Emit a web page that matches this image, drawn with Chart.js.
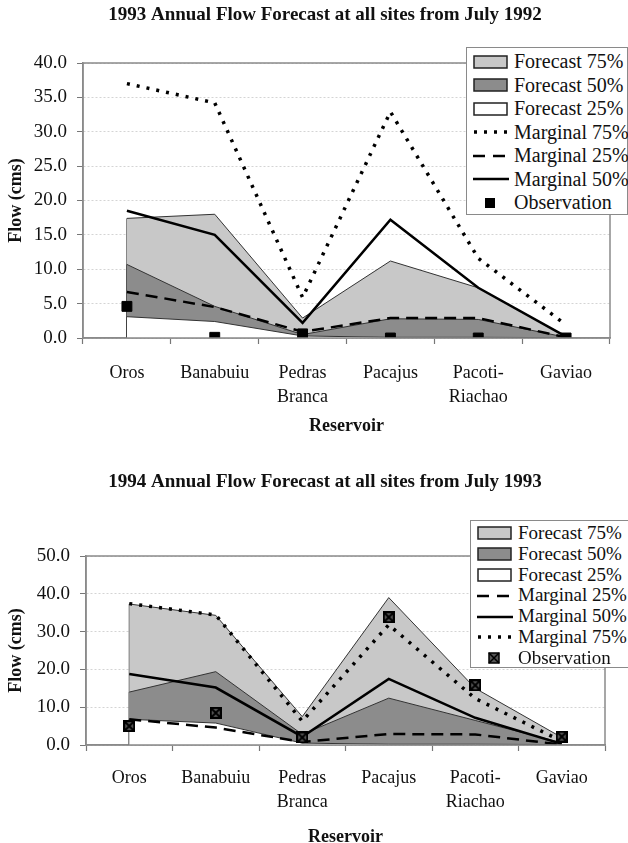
<!DOCTYPE html>
<html>
<head>
<meta charset="utf-8">
<script src="https://cdn.jsdelivr.net/npm/chart.js@4.4.1/dist/chart.umd.min.js"></script>
<style>
  body { margin: 0; background: #fff; width: 628px; height: 843px; overflow: hidden; position: relative; font-family: "Liberation Serif", "Times New Roman", serif; color: #111; }
  .box { position: absolute; left: 0; width: 628px; }
  .legend { position: absolute; background: #fff; border: 1.5px solid #8a8a8a; box-sizing: border-box; padding: 2px 0 0 6px; font-family: "Liberation Serif", serif; }
  .legend .row { display: flex; align-items: center; white-space: nowrap; }
  .legend svg { flex: none; margin-right: 5px; }
</style>
</head>
<body>
<div class="box" style="top:0;height:445px"><canvas id="chart93"></canvas></div>
<div class="box" style="top:455px;height:393px"><canvas id="chart94"></canvas></div>
<div class="legend" id="legend93" style="left:466px;top:47px;width:162px;height:168px;font-size:20px;line-height:23.5px"></div>
<div class="legend" id="legend94" style="left:470px;top:520px;width:160px;height:148px;font-size:19px;line-height:20.8px"></div>

<script>
// categories
const reservoirs = [['Oros'], ['Banabuiu'], ['Pedras', 'Branca'], ['Pacajus'], ['Pacoti-', 'Riachao'], ['Gaviao']];

// 1993 forecast from July 1992
const forecast75_93 = [17.4, 18.0, 2.9, 11.2, 7.3, 0.2];
const forecast50_93 = [10.7, 4.6, 0.5, 2.8, 2.7, 0.1];
const forecast25_93 = [3.1, 2.4, 0.3, 0.1, 0.1, 0.05];
const marginal75_93 = [37.0, 34.2, 5.9, 32.9, 11.6, 1.9];
const marginal50_93 = [18.5, 15.0, 2.2, 17.2, 7.3, 0.2];
const marginal25_93 = [6.7, 4.5, 0.9, 2.9, 2.9, 0.1];
const observed_93 = [4.6, 0.1, 0.6, 0.0, 0.0, 0.0];

// 1994 forecast from July 1993
const forecast75_94 = [37.3, 34.3, 7.5, 39.0, 15.0, 2.0];
const forecast50_94 = [14.0, 19.4, 2.8, 12.4, 6.5, 0.6];
const forecast25_94 = [6.8, 5.8, 0.5, 0.2, 0.2, 0.1];
const marginal75_94 = [37.4, 34.4, 6.3, 31.8, 12.3, 1.0];
const marginal50_94 = [18.8, 15.2, 2.2, 17.5, 7.2, 0.3];
const marginal25_94 = [6.8, 4.6, 0.8, 2.9, 2.8, 0.1];
const observed_94 = [5.0, 8.5, 2.0, 33.8, 15.8, 2.2];

const FONT = '"Liberation Serif", "Times New Roman", serif';
const LIGHT = '#c8c8c8';
const DARK = '#8c8c8c';
const dotted = [3, 7];
const dashed = [12, 7];

// square with a cross, used for 1994 observations
function crossSquare() {
    const c = document.createElement('canvas');
    c.width = 12; c.height = 12;
    const g = c.getContext('2d');
    g.fillStyle = '#555';
    g.fillRect(0, 0, 12, 12);
    g.strokeStyle = '#000';
    g.lineWidth = 2;
    g.strokeRect(1, 1, 10, 10);
    g.beginPath();
    g.moveTo(1, 1); g.lineTo(11, 11);
    g.moveTo(11, 1); g.lineTo(1, 11);
    g.stroke();
    return c;
}

// plot frame, heading, and the vertical edge of the filled areas at the first category
const framePlugin = {
    id: 'frame',
    beforeDatasetsDraw(chart) {
        const ctx = chart.ctx;
        const y0 = chart.scales.y.getPixelForValue(0);
        ctx.save();
        ctx.strokeStyle = '#333';
        ctx.lineWidth = 1;
        chart.data.datasets.forEach((ds, i) => {
            if (!ds.fill) return;
            const pt = chart.getDatasetMeta(i).data[0];
            ctx.beginPath();
            ctx.moveTo(pt.x, y0);
            ctx.lineTo(pt.x, pt.y);
            ctx.stroke();
        });
        ctx.restore();
    },
    afterDraw(chart, args, opts) {
        const a = chart.chartArea;
        const ctx = chart.ctx;
        ctx.save();
        ctx.strokeStyle = '#8a8a8a';
        ctx.lineWidth = 1.5;
        ctx.strokeRect(a.left, a.top, a.right - a.left, a.bottom - a.top);
        // heading sits a little right of the canvas centre, as in the original
        ctx.fillStyle = '#111';
        ctx.font = 'bold 19px ' + FONT;
        ctx.textAlign = 'center';
        ctx.textBaseline = 'middle';
        ctx.fillText(opts.text, opts.x, opts.y);
        ctx.restore();
    }
};

function areaSet(label, values, color, order) {
    return { label: label, data: values, fill: 'origin', backgroundColor: color, borderColor: '#333',
             borderWidth: 1, pointRadius: 0, tension: 0, order: order };
}

function lineSet(label, values, dash, width, order) {
    return { label: label, data: values, fill: false, borderColor: '#000', borderWidth: width,
             borderDash: dash, pointRadius: 0, tension: 0, order: order };
}

function makeChart(id, cfg) {
    const ctx = document.getElementById(id).getContext('2d');
    return new Chart(ctx, {
        type: 'line',
        data: {
            labels: reservoirs,
            datasets: [
                areaSet('Forecast 75%', cfg.f75, LIGHT, 9),
                areaSet('Forecast 50%', cfg.f50, DARK, 8),
                areaSet('Forecast 25%', cfg.f25, '#fff', 7),
                lineSet('Marginal 75%', cfg.m75, dotted, 3.5, 3),
                lineSet('Marginal 25%', cfg.m25, dashed, 2.5, 4),
                lineSet('Marginal 50%', cfg.m50, [], 2.5, 2),
                { label: 'Observation', data: cfg.obs, showLine: false, pointStyle: cfg.obsStyle,
                  pointRadius: 7, pointBackgroundColor: '#000', pointBorderColor: '#000', order: 0 }
            ]
        },
        options: {
            responsive: true,
            maintainAspectRatio: false,
            animation: false,
            layout: { padding: { left: 0, right: cfg.padRight, top: cfg.padTop, bottom: 0 } },
            plugins: {
                legend: { display: false },
                tooltip: { enabled: false },
                title: { display: false },
                frame: { text: cfg.title, x: 325, y: cfg.titleY }
            },
            scales: {
                x: {
                    offset: true,
                    grid: { offset: true, drawOnChartArea: false, drawTicks: true, tickLength: 6, tickColor: '#777', tickWidth: 1.2 },
                    border: { color: '#8a8a8a', width: 1.5 },
                    ticks: { color: '#111', maxRotation: 0, autoSkip: false, padding: cfg.xTickPad,
                             font: { family: FONT, size: 18, lineHeight: 1.35 } },
                    title: { display: true, text: 'Reservoir', color: '#111',
                             font: { family: FONT, size: 18, weight: 'bold' }, padding: { top: 0, bottom: cfg.xTitleBottom } },
                    afterFit: s => { s.height = cfg.xHeight; }
                },
                y: {
                    min: 0,
                    max: cfg.yMax,
                    ticks: { stepSize: cfg.yStep, color: '#111', padding: 10,
                             font: { family: FONT, size: 19 },
                             callback: v => v.toFixed(1) },
                    grid: { color: '#d4d4d4', lineWidth: 1, tickLength: 6, tickColor: '#777',
                            drawTicks: true },
                    border: { color: '#8a8a8a', width: 1.5, dash: [2, 2] },
                    title: { display: true, text: 'Flow (cms)', color: '#111',
                             font: { family: FONT, size: 18, weight: 'bold' }, padding: { top: 6, bottom: 0 } },
                    afterFit: s => { s.width = cfg.yWidth; }
                }
            }
        },
        plugins: [framePlugin]
    });
}

makeChart('chart93', {
    title: '1993 Annual Flow Forecast at all sites from July 1992',
    f75: forecast75_93, f50: forecast50_93, f25: forecast25_93,
    m75: marginal75_93, m50: marginal50_93, m25: marginal25_93, obs: observed_93,
    obsStyle: 'rect', yMax: 40, yStep: 5, yWidth: 83, padRight: 18, padTop: 63, titleY: 15,
    xHeight: 107, xTickPad: 17, xTitleBottom: 8
});

makeChart('chart94', {
    title: '1994 Annual Flow Forecast at all sites from July 1993',
    f75: forecast75_94, f50: forecast50_94, f25: forecast25_94,
    m75: marginal75_94, m50: marginal50_94, m25: marginal25_94, obs: observed_94,
    obsStyle: crossSquare(), yMax: 50, yStep: 10, yWidth: 86, padRight: 23, padTop: 101, titleY: 27,
    xHeight: 103, xTickPad: 15, xTitleBottom: 0
});

// legends, drawn as html boxes over the plot like the original
function swatch(kind) {
    if (kind === 'area75') return '<svg width="36" height="16"><rect x="1" y="2" width="33" height="12" fill="' + LIGHT + '" stroke="#222" stroke-width="1.5"/></svg>';
    if (kind === 'area50') return '<svg width="36" height="16"><rect x="1" y="2" width="33" height="12" fill="' + DARK + '" stroke="#222" stroke-width="1.5"/></svg>';
    if (kind === 'area25') return '<svg width="36" height="16"><rect x="1" y="2" width="33" height="12" fill="#fff" stroke="#222" stroke-width="1.5"/></svg>';
    if (kind === 'dot') return '<svg width="36" height="16"><line x1="1" y1="8" x2="36" y2="8" stroke="#000" stroke-width="3.5" stroke-dasharray="3 7"/></svg>';
    if (kind === 'dash') return '<svg width="36" height="16"><line x1="0" y1="8" x2="36" y2="8" stroke="#000" stroke-width="2.5" stroke-dasharray="12 8"/></svg>';
    if (kind === 'solid') return '<svg width="36" height="16"><line x1="0" y1="8" x2="36" y2="8" stroke="#000" stroke-width="2.5"/></svg>';
    if (kind === 'sq') return '<svg width="36" height="16"><rect x="12" y="3" width="10" height="10" fill="#000"/></svg>';
    return '<svg width="36" height="16"><rect x="12" y="3" width="10" height="10" fill="#555" stroke="#000" stroke-width="1.5"/>' +
           '<path d="M12 3L22 13M22 3L12 13" stroke="#000" stroke-width="1.5"/></svg>';
}

function buildLegend(id, items) {
    let html = '';
    for (let it of items) {
        html += '<div class="row">' + swatch(it[0]) + '<span>' + it[1] + '</span></div>';
    }
    document.getElementById(id).innerHTML = html;
}

buildLegend('legend93', [['area75', 'Forecast 75%'], ['area50', 'Forecast 50%'], ['area25', 'Forecast 25%'],
    ['dot', 'Marginal 75%'], ['dash', 'Marginal 25%'], ['solid', 'Marginal 50%'], ['sq', 'Observation']]);
buildLegend('legend94', [['area75', 'Forecast 75%'], ['area50', 'Forecast 50%'], ['area25', 'Forecast 25%'],
    ['dash', 'Marginal 25%'], ['solid', 'Marginal 50%'], ['dot', 'Marginal 75%'], ['xsq', 'Observation']]);
</script>
</body>
</html>
